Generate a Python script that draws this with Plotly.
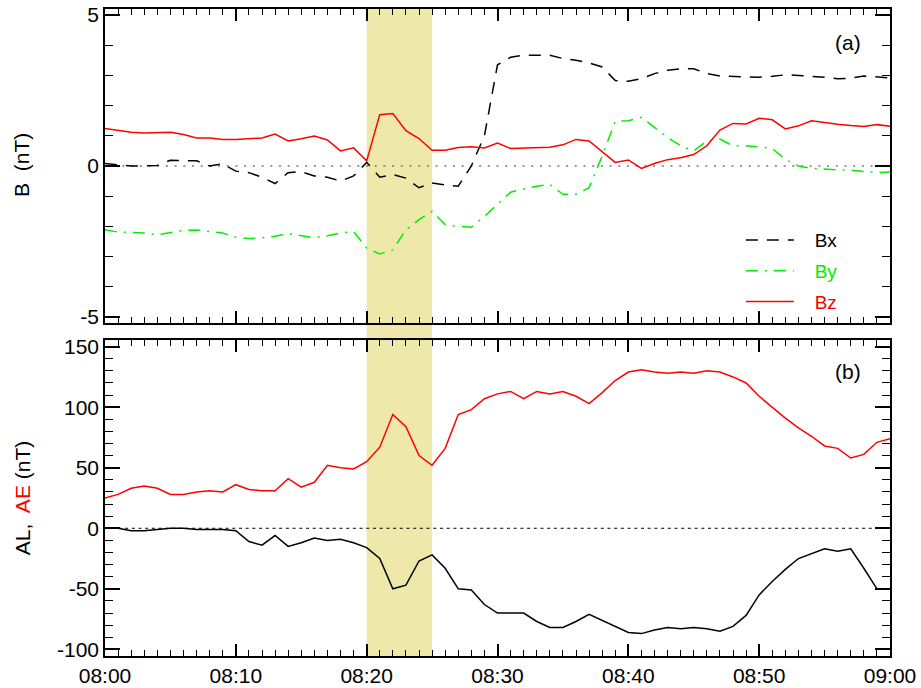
import plotly.graph_objects as go
import pandas as pd

# ---- data (one value per minute, 08:00 - 09:00) ----
times = pd.date_range("2000-01-01 08:00", periods=61, freq="min")

bx = [0.08, 0.05, 0.0, 0.0, 0.02, 0.19, 0.19, 0.17, 0.0, 0.07,
      -0.17, -0.22, -0.37, -0.58, -0.22, -0.19, -0.33, -0.37, -0.5, -0.33,
      0.12, -0.37, -0.28, -0.4, -0.72, -0.56, -0.63, -0.67, 0.0, 1.0,
      3.35, 3.6, 3.67, 3.67, 3.67, 3.56, 3.5, 3.41, 3.28, 2.83,
      2.81, 2.89, 3.06, 3.17, 3.22, 3.22, 3.06, 2.98, 2.97, 2.94,
      2.94, 2.97, 3.02, 3.0, 2.98, 2.94, 2.89, 2.91, 2.98, 2.94, 2.92]

by = [-2.11, -2.19, -2.2, -2.22, -2.28, -2.2, -2.13, -2.12, -2.17, -2.22,
      -2.36, -2.4, -2.38, -2.33, -2.24, -2.31, -2.38, -2.31, -2.22, -2.17,
      -2.72, -2.91, -2.78, -2.11, -1.78, -1.5, -1.94, -2.0, -2.03, -1.67,
      -1.28, -0.87, -0.76, -0.67, -0.61, -0.94, -0.94, -0.72, 0.33, 1.48,
      1.5, 1.61, 1.28, 0.94, 0.67, 0.5, 0.83, 0.89, 0.67, 0.67,
      0.63, 0.58, 0.22, 0.0, -0.08, -0.11, -0.13, -0.14, -0.17, -0.22, -0.2]

bz = [1.24, 1.18, 1.12, 1.09, 1.1, 1.12, 1.04, 0.93, 0.93, 0.88,
      0.88, 0.9, 0.93, 1.06, 0.83, 0.9, 0.99, 0.86, 0.5, 0.6,
      0.17, 1.7, 1.74, 1.17, 0.91, 0.52, 0.52, 0.61, 0.64, 0.6,
      0.76, 0.58, 0.6, 0.61, 0.62, 0.7, 0.88, 0.83, 0.47, 0.12,
      0.2, -0.08, 0.08, 0.21, 0.27, 0.38, 0.67, 1.19, 1.41, 1.39,
      1.58, 1.53, 1.23, 1.33, 1.5, 1.43, 1.38, 1.34, 1.31, 1.37, 1.32]

ae = [25, 28, 33, 35, 33, 28, 28, 30, 31, 30,
      36, 32, 31, 31, 41, 34, 38, 52, 50, 49,
      55, 67, 94, 84, 60, 52, 66, 94, 98, 107,
      111, 113, 107, 113, 111, 113, 109, 103, 112, 122,
      129, 131, 129, 128, 129, 128, 130, 129, 125, 120,
      109, 100, 91, 83, 76, 68, 66, 58, 61, 71, 74]

al = [0, 0, -2, -2, -1, 0, 0, -1, -1, -1,
      -2, -11, -14, -6, -15, -12, -8, -10, -9, -12,
      -16, -25, -50, -47, -27, -22, -33, -50, -51, -63,
      -70, -70, -70, -77, -82, -82, -77, -71, -76, -81,
      -86, -87, -84, -82, -83, -82, -83, -85, -81, -72,
      -55, -44, -34, -25, -21, -17, -19, -17, -33, -50, -50]

# tick values / labels (hyphen minus as in the original)
b_tickvals = [-5, 0, 5]
b_ticktext = ["-5", "0", "5"]
idx_tickvals = [-100, -50, 0, 50, 100, 150]
idx_ticktext = ["-100", "-50", "0", "50", "100", "150"]

shade_start = times[20]
shade_end = times[25]

FONT = "Liberation Sans, Arial, sans-serif"
GREEN = "#00ee00"
RED = "#ff0000"
PAD = "&nbsp;&nbsp;&nbsp;"

fig = go.Figure()

fig.add_trace(go.Scatter(x=times, y=bx, mode="lines", xaxis="x2", yaxis="y2",
                         name=PAD + "Bx", legendgroup="bx",
                         line=dict(color="black", width=1.5, dash="12px,9px")))
fig.add_trace(go.Scatter(x=times, y=by, mode="lines", xaxis="x2", yaxis="y2",
                         name=PAD + "<span style='color:%s'>By</span>" % GREEN, legendgroup="by",
                         line=dict(color=GREEN, width=1.5, dash="12px,7px,2px,7px")))
fig.add_trace(go.Scatter(x=times, y=bz, mode="lines", xaxis="x2", yaxis="y2",
                         name=PAD + "<span style='color:%s'>Bz</span>" % RED, legendgroup="bz",
                         line=dict(color=RED, width=1.5)))

fig.add_trace(go.Scatter(x=times, y=ae, mode="lines", xaxis="x", yaxis="y",
                         name="AE", showlegend=False,
                         line=dict(color=RED, width=1.5)))
fig.add_trace(go.Scatter(x=times, y=al, mode="lines", xaxis="x", yaxis="y",
                         name="AL", showlegend=False,
                         line=dict(color="black", width=1.5)))

common_x = dict(
    type="date", range=[times[0], times[-1]], automargin=False,
    showline=True, linecolor="black", linewidth=1.5, mirror="ticks",
    ticks="inside", ticklen=12, tickwidth=1.5, tickcolor="black",
    tick0=times[0], dtick=600000, tickformat="%H:%M",
    minor=dict(ticks="inside", ticklen=6, tickwidth=1.2, tickcolor="black", dtick=60000),
    showgrid=False, zeroline=False,
    tickfont=dict(family=FONT, size=21, color="black"),
)
common_y = dict(
    showline=True, linecolor="black", linewidth=1.5, mirror="ticks", automargin=False,
    ticks="inside", ticklen=15, tickwidth=1.5, tickcolor="black",
    showgrid=False, zeroline=False, tickmode="array",
    tickfont=dict(family=FONT, size=21, color="black"),
)

fig.update_layout(
    template="none",
    width=921, height=688,
    margin=dict(l=105, r=31, t=9, b=32, autoexpand=False),
    plot_bgcolor="white", paper_bgcolor="white",
    font=dict(family=FONT, size=20, color="black"),
    xaxis=dict(common_x, anchor="y"),
    xaxis2=dict(common_x, anchor="y2", matches="x", showticklabels=False),
    yaxis=dict(common_y, domain=[0, 0.4884], range=[-105.5, 155.5],
               tickvals=idx_tickvals, ticktext=idx_ticktext,
               minor=dict(ticks="inside", ticklen=8, tickwidth=1.2, tickcolor="black",
                          tick0=0, dtick=10)),
    yaxis2=dict(common_y, domain=[0.5147, 1], range=[-5.2, 5.2],
                tickvals=b_tickvals, ticktext=b_ticktext,
                minor=dict(ticks="inside", ticklen=8, tickwidth=1.2, tickcolor="black",
                           tick0=0, dtick=1)),
    showlegend=True,
    legend=dict(x=0.810, y=0.672, xanchor="left", yanchor="top",
                bgcolor="rgba(0,0,0,0)", borderwidth=0, itemwidth=48,
                font=dict(family=FONT, size=19, color="black"),
                tracegroupgap=3),
    shapes=[
        dict(type="rect", xref="x", yref="paper", x0=shade_start, x1=shade_end,
             y0=0, y1=1.002, fillcolor="#eee8aa", line=dict(width=0), layer="below"),
        dict(type="line", xref="x2 domain", yref="y2", x0=0, x1=1, y0=0, y1=0,
             line=dict(color="#777777", width=1.5, dash="2px,6.7px"), layer="below"),
        dict(type="line", xref="x domain", yref="y", x0=0, x1=1, y0=0, y1=0,
             line=dict(color="black", width=1, dash="3px,3.7px"), layer="below"),
    ],
    annotations=[
        dict(text="B&nbsp; (nT)", xref="paper", yref="paper", x=-0.1057, y=0.759,
             xanchor="center", yanchor="middle", textangle=-90, showarrow=False,
             font=dict(family=FONT, size=21, color="black")),
        dict(text="AL,&nbsp; <span style='color:#ff0000'>AE</span> (nT)", xref="paper", yref="paper",
             x=-0.1057, y=0.244, xanchor="center", yanchor="middle", textangle=-90,
             showarrow=False, font=dict(family=FONT, size=21, color="black")),
        dict(text="(a)", xref="paper", yref="paper", x=0.9465, y=0.9475,
             xanchor="center", yanchor="middle", showarrow=False,
             font=dict(family=FONT, size=21, color="black")),
        dict(text="(b)", xref="paper", yref="paper", x=0.9465, y=0.439,
             xanchor="center", yanchor="middle", showarrow=False,
             font=dict(family=FONT, size=21, color="black")),
    ],
)

fig.write_html("out.html", config={"displayModeBar": False},
               post_script="document.body.style.margin='0';document.body.style.overflow='hidden';")
